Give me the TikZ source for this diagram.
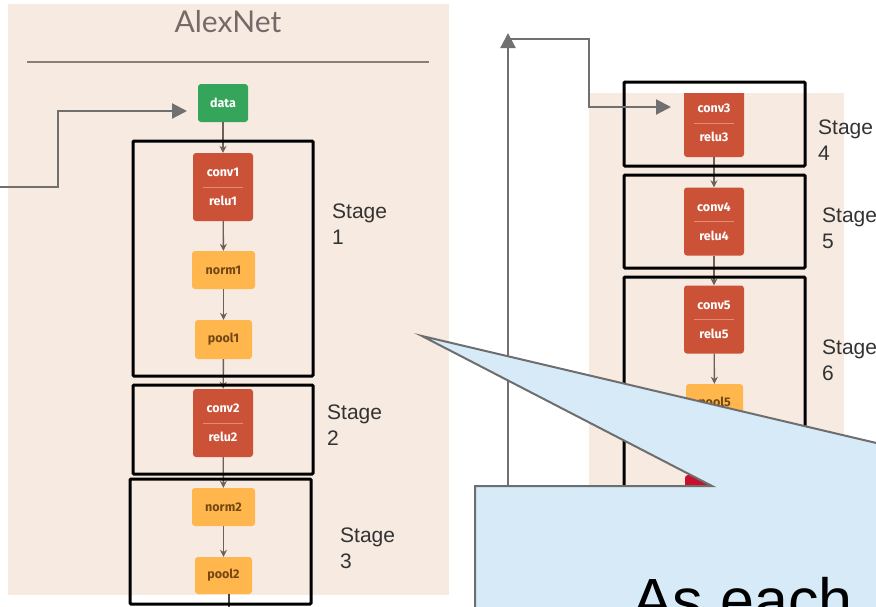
\documentclass[tikz,border=0pt]{standalone}
\usepackage{fontspec}
\setmainfont{Liberation Sans}
\newfontfamily\titlefont{Lato}
\newfontfamily\boxfont{Fira Sans}
\usetikzlibrary{arrows.meta}

\definecolor{panelbg}{RGB}{246,234,225}
\definecolor{rulecol}{RGB}{140,125,120}
\definecolor{titlecol}{RGB}{120,105,105}
\definecolor{datagreen}{RGB}{52,165,90}
\definecolor{convred}{RGB}{203,82,55}
\definecolor{divred}{RGB}{228,140,115}
\definecolor{poolorange}{RGB}{255,183,77}
\definecolor{pooltext}{RGB}{115,70,20}
\definecolor{flowcol}{RGB}{110,95,90}
\definecolor{fbcol}{RGB}{112,112,112}
\definecolor{fccrimson}{RGB}{200,16,46}
\definecolor{calloutfill}{RGB}{214,234,248}
\definecolor{calloutline}{RGB}{110,110,110}
\definecolor{stagetext}{RGB}{51,51,51}

\tikzset{
  layer/.style={rounded corners=3pt, inner sep=0pt},
  datanode/.style={layer, fill=datagreen, minimum width=50pt, minimum height=38pt},
  convnode/.style={layer, fill=convred, minimum width=60pt, minimum height=68pt},
  poolnode/.style={layer, fill=poolorange, minimum height=38pt},
  fcnode/.style={layer, fill=fccrimson, minimum width=58pt, minimum height=68pt},
  lightlabel/.style={inner sep=0pt, text=white, font=\boxfont\bfseries\fontsize{12.5}{14}\selectfont},
  darklabel/.style={inner sep=0pt, text=pooltext, font=\boxfont\bfseries\fontsize{12.5}{14}\selectfont},
  divider/.style={draw=divred, line width=0.8pt},
  flow/.style={draw=flowcol, line width=1.4pt, -{Stealth[length=7pt,width=7pt]}},
  flowline/.style={draw=flowcol!70!black, line width=1.4pt},
  stagebox/.style={draw=black, line width=3pt, rounded corners=1pt},
  % anchored at the baseline of the second line
  stagelabel/.style={anchor=base west, align=left, inner sep=0pt, text=stagetext,
                     font=\fontsize{21}{25.5}\selectfont},
  fbarrow/.style={draw=fbcol, line width=2.2pt, -{Triangle[length=15pt,width=15pt]}},
  callout/.style={fill=calloutfill, draw=calloutline, line width=2pt, line join=miter},
}

\begin{document}
\begin{tikzpicture}[x=1pt, y=-1pt]
\useasboundingbox (0,0) rectangle (876,606);
\clip (0,0) rectangle (876,606);

% ---------- left panel ----------
\fill[panelbg] (8,4) rectangle (449,595);
\node[inner sep=0pt, text=titlecol, font=\titlefont\fontsize{30}{36}\selectfont] (title) at (228,22) {AlexNet};
\draw[rulecol, line width=1.3pt] (27,62) -- (429,62);

\node[datanode] (data) at (223,103) {};
\node[lightlabel] (datat) at (data.center) {data};

\node[convnode] (c1) at (223,187) {};
\node[lightlabel] (c1a) at ([yshift=14.5pt]c1.center) {conv1};
\node[lightlabel] (c1b) at ([yshift=-14pt]c1.center) {relu1};
\draw[divider] ([xshift=10pt]c1.west) -- ([xshift=-10pt]c1.east);

\node[poolnode, minimum width=63pt] (n1) at (223.5,270) {};
\node[darklabel] (n1t) at (n1.center) {norm1};

\node[poolnode, minimum width=57pt, minimum height=39pt] (p1) at (223.5,339.5) {};
\node[darklabel] (p1t) at (p1.center) {pool1};

\node[convnode] (c2) at (223,423) {};
\node[lightlabel] (c2a) at ([yshift=14.5pt]c2.center) {conv2};
\node[lightlabel] (c2b) at ([yshift=-14pt]c2.center) {relu2};
\draw[divider] ([xshift=10pt]c2.west) -- ([xshift=-10pt]c2.east);

\node[poolnode, minimum width=63pt] (n2) at (223.5,507) {};
\node[darklabel] (n2t) at (n2.center) {norm2};

\node[poolnode, minimum width=57pt, minimum height=37pt] (p2) at (223.5,575.5) {};
\node[darklabel] (p2t) at (p2.center) {pool2};

\draw[flow] (data) -- (c1);
\draw[flow] (c1) -- (n1);
\draw[flow] (n1) -- (p1);
\draw[flow] (p1) -- (c2);
\draw[flow] (c2) -- (n2);
\draw[flow] (n2) -- (p2);
\coordinate (p2out) at (229,612);
\draw[flowline] (p2.south -| p2out) -- (p2out);

% input arrow into data
\coordinate (inStart) at (-3,187);
\coordinate (dataIn) at (187,111);
\draw[fbarrow] (inStart) -- (58,187) -- (58,111) -- (dataIn);

% stage frames, left
\draw[stagebox] (133,141) rectangle (313,376);
\draw[stagebox] (133,385) rectangle (313,474);
\draw[stagebox] (130,479) rectangle (311,604);
\node[stagelabel] (s1) at (332,244) {Stage\\1};
\node[stagelabel] (s2) at (327,445) {Stage\\2};
\node[stagelabel] (s3) at (340,568) {Stage\\3};

% ---------- right panel ----------
\fill[panelbg] (589,93) rectangle (844,620);
\begin{scope}
  \clip (589,93) rectangle (844,620);
  \node[convnode] (c3) at (714,123) {};
\end{scope}
\node[lightlabel] (c3a) at (714,108) {conv3};
\node[lightlabel] (c3b) at (714,137) {relu3};
\draw[divider] (694,123.5) -- (734,123.5);

\node[convnode] (c4) at (714,221.5) {};
\node[lightlabel] (c4a) at ([yshift=14.5pt]c4.center) {conv4};
\node[lightlabel] (c4b) at ([yshift=-14pt]c4.center) {relu4};
\draw[divider] ([xshift=10pt]c4.west) -- ([xshift=-10pt]c4.east);

\node[convnode] (c5) at (714,319.5) {};
\node[lightlabel] (c5a) at ([yshift=14.5pt]c5.center) {conv5};
\node[lightlabel] (c5b) at ([yshift=-14pt]c5.center) {relu5};
\draw[divider] ([xshift=10pt]c5.west) -- ([xshift=-10pt]c5.east);

\node[poolnode, minimum width=57pt] (p5) at (714.5,403) {};
\node[darklabel] (p5t) at (p5.center) {pool5};

\node[fcnode] (fc6) at (714,509) {};

\draw[flow] (c3) -- (c4);
\draw[flow] (c4) -- (c5);
\draw[flow] (c5) -- (p5);

% stage frames, right
\draw[stagebox] (624,82) rectangle (805,166);
\draw[stagebox] (624,175) rectangle (805,268);
\draw[stagebox] (624,277) rectangle (805,650);
\node[stagelabel] (s4) at (818,160) {Stage\\4};
\node[stagelabel] (s5) at (822,248) {Stage\\5};
\node[stagelabel] (s6) at (822,380) {Stage\\6};

% feedback connector into conv3
\coordinate (fbBottom) at (508,500);
\coordinate (fbTop) at (508,33);
\coordinate (fbJoin) at (508,39);
\coordinate (c3in) at (671,107);
\draw[fbarrow] (fbBottom) -- (fbTop);
\draw[fbarrow] (fbJoin) -- (589,39) -- (589,107) -- (c3in);

% ---------- callout ----------
\draw[callout] (475,720) -- (475,486) -- (712,486) -- (422,336) -- (1059,486)
  -- (1300,486) -- (1300,720) -- cycle;
\node[anchor=base west, inner sep=0pt, font=\fontsize{61}{70}\selectfont] (note) at (632,621) {As each};
\end{tikzpicture}
\end{document}
